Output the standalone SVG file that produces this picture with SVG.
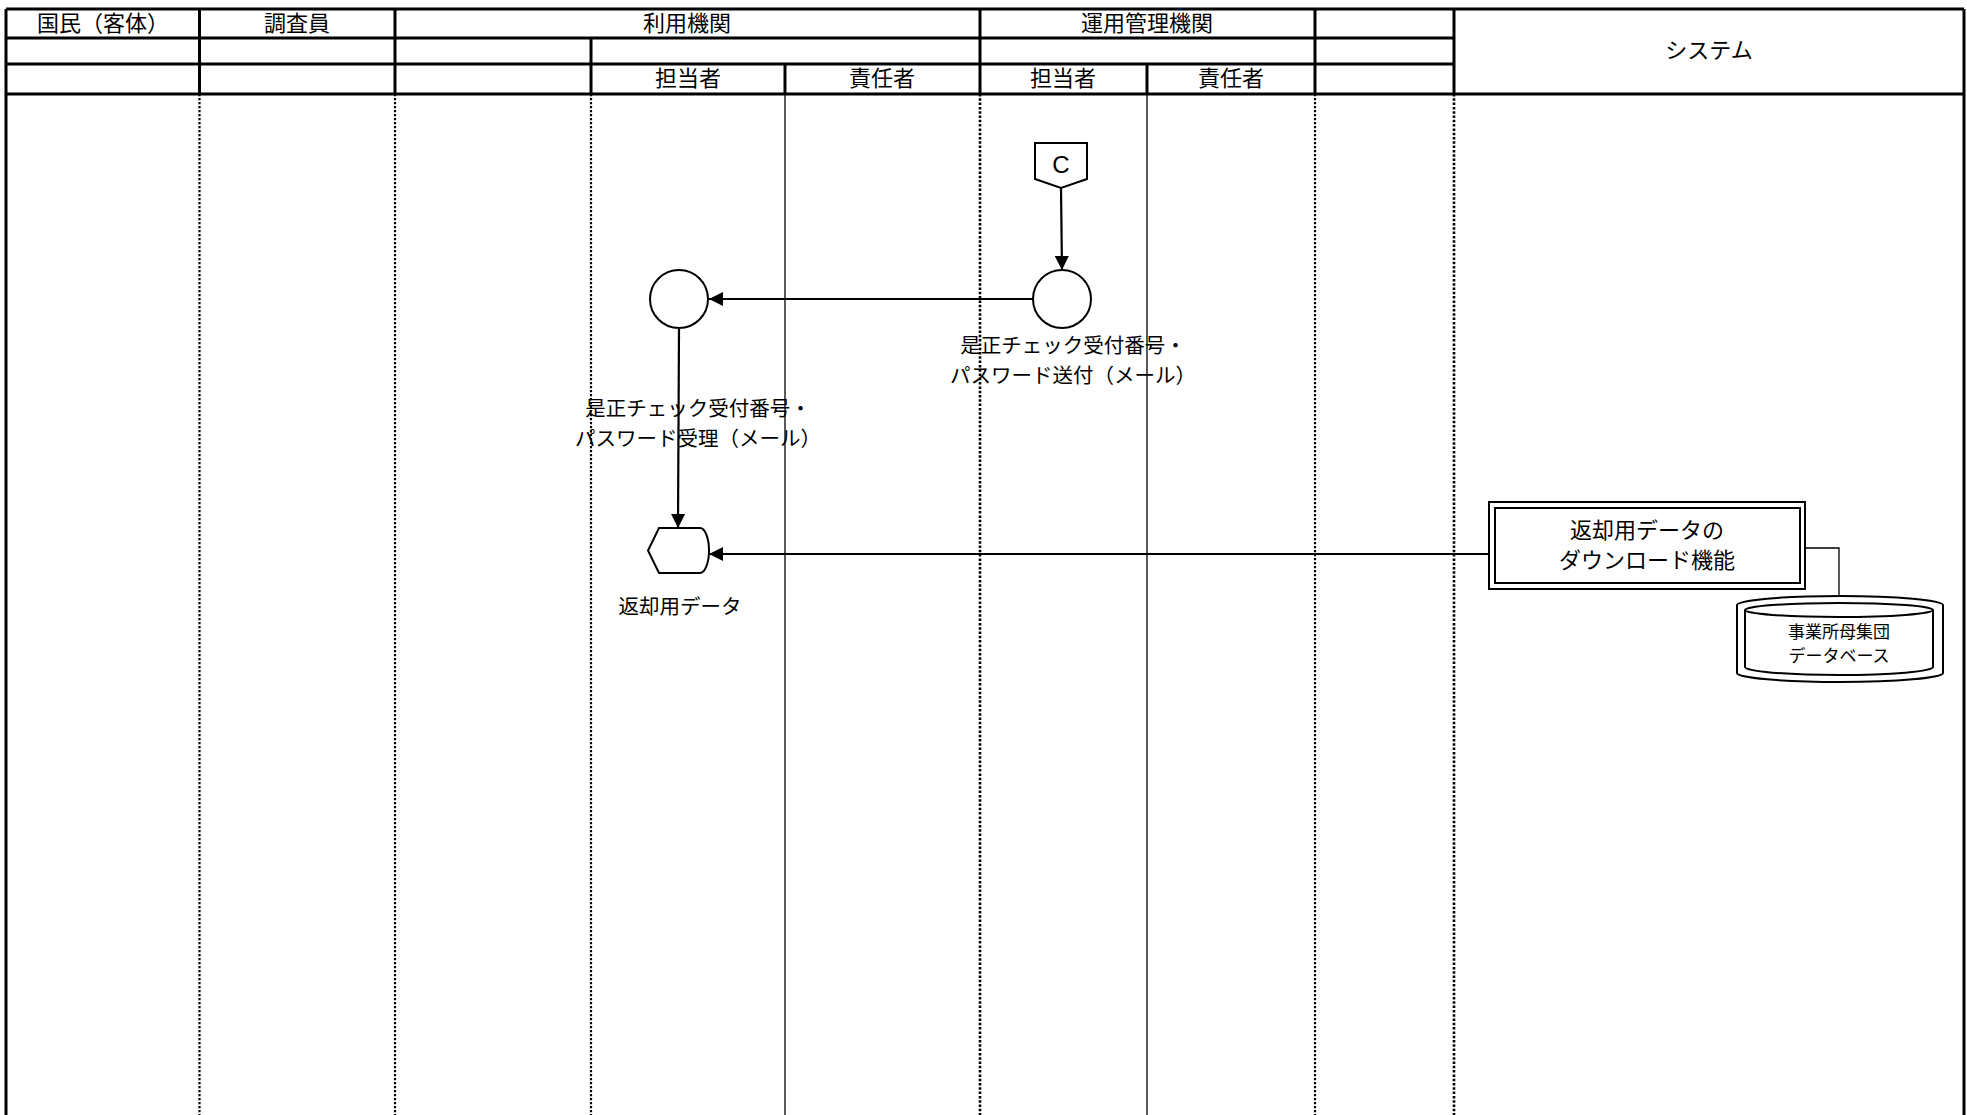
<svg xmlns="http://www.w3.org/2000/svg" width="1967" height="1115" viewBox="0 0 1967 1115">
<style>
text{font-family:"Liberation Sans","Noto Sans CJK JP",sans-serif;fill:#000;}
.h{font-size:22px;text-anchor:middle;}
.lbl{font-size:20.5px;text-anchor:middle;}
.db{font-size:17px;text-anchor:middle;}
.hl{stroke:#000;stroke-width:3;fill:none;}
.dot{stroke:#000;stroke-width:2.2;stroke-dasharray:2.2,1.8;fill:none;}
.dotb{stroke:#000;stroke-width:2.6;stroke-dasharray:2.5,1.8;fill:none;}
.thin{stroke:#000;stroke-width:1.3;fill:none;}
.shape{stroke:#000;stroke-width:2;fill:#fff;}
.conn{stroke:#000;stroke-width:2.2;fill:none;}
</style>
<defs>
<marker id="arr" markerUnits="userSpaceOnUse" markerWidth="16" markerHeight="14" refX="14" refY="7" orient="auto">
<path d="M0,0 L14,7 L0,14 Z" fill="#000"/>
</marker>
</defs>
<rect width="1967" height="1115" fill="#fff"/>
<g id="lanes">
<line class="dot" x1="199.5" y1="94" x2="199.5" y2="1115"/>
<line class="dot" x1="395" y1="94" x2="395" y2="1115"/>
<line class="dot" x1="591" y1="94" x2="591" y2="1115"/>
<line class="thin" x1="785" y1="94" x2="785" y2="1115"/>
<line class="dotb" x1="980" y1="94" x2="980" y2="1115"/>
<line class="thin" x1="1147" y1="94" x2="1147" y2="1115"/>
<line class="dot" x1="1315" y1="94" x2="1315" y2="1115"/>
<line class="dotb" x1="1454" y1="94" x2="1454" y2="1115"/>
<line class="hl" x1="6" y1="9" x2="6" y2="1115"/>
<line class="hl" x1="1964" y1="9" x2="1964" y2="1115"/>
</g>
<g id="header">
<line class="hl" x1="6" y1="9" x2="1964" y2="9"/>
<line class="hl" x1="6" y1="38" x2="1454" y2="38"/>
<line class="hl" x1="6" y1="64" x2="1454" y2="64"/>
<line class="hl" x1="6" y1="94" x2="1964" y2="94"/>
<line class="hl" x1="199.5" y1="9" x2="199.5" y2="94"/>
<line class="hl" x1="395" y1="9" x2="395" y2="94"/>
<line class="hl" x1="591" y1="38" x2="591" y2="94"/>
<line class="hl" x1="785" y1="64" x2="785" y2="94"/>
<line class="hl" x1="980" y1="9" x2="980" y2="94"/>
<line class="hl" x1="1147" y1="64" x2="1147" y2="94"/>
<line class="hl" x1="1315" y1="9" x2="1315" y2="94"/>
<line class="hl" x1="1454" y1="9" x2="1454" y2="94"/>
<text class="h" x="103" y="31">国民（客体）</text>
<text class="h" x="297" y="31">調査員</text>
<text class="h" x="687" y="31">利用機関</text>
<text class="h" x="1147" y="31">運用管理機関</text>
<text class="h" x="688" y="86">担当者</text>
<text class="h" x="882" y="86">責任者</text>
<text class="h" x="1063" y="86">担当者</text>
<text class="h" x="1231" y="86">責任者</text>
<text class="h" x="1709" y="58">システム</text>
</g>
<g id="connectors">
<line class="conn" x1="1061" y1="188" x2="1062" y2="270" marker-end="url(#arr)"/>
<line class="conn" x1="1033" y1="299" x2="709" y2="299" marker-end="url(#arr)"/>
<line class="conn" x1="679" y1="328" x2="678" y2="528" marker-end="url(#arr)"/>
<line class="conn" x1="1489" y1="554" x2="709" y2="554" marker-end="url(#arr)"/>
<polyline class="thin" points="1805,548 1839,548 1839,600"/>
</g>
<g id="node-c">
<path class="shape" d="M1035,143 L1087,143 L1087,179 L1061,188 L1035,179 Z"/>
<text x="1061" y="173" style="font-size:24px;text-anchor:middle">C</text>
</g>
<g id="node-send">
<circle class="shape" cx="1062" cy="299" r="29"/>
<text class="lbl" x="1073" y="353">是正チェック受付番号・</text>
<text class="lbl" x="1073" y="383">パスワード送付（メール）</text>
</g>
<g id="node-receive">
<circle class="shape" cx="679" cy="299" r="29"/>
<text class="lbl" x="698" y="416">是正チェック受付番号・</text>
<text class="lbl" x="698" y="446">パスワード受理（メール）</text>
</g>
<g id="node-data">
<path class="shape" d="M659,528 L700,528 A9,22.5 0 0 1 700,573 L659,573 L648,550.5 Z"/>
<text class="lbl" x="680" y="614">返却用データ</text>
</g>
<g id="node-download">
<rect class="shape" x="1489" y="502" width="316" height="87"/>
<rect class="shape" x="1495" y="508" width="305" height="75"/>
<text class="h" x="1647" y="538">返却用データの</text>
<text class="h" x="1647" y="568">ダウンロード機能</text>
</g>
<g id="node-db">
<path class="shape" d="M1737,605 A103,9 0 0 1 1943,605 L1943,673 A103,9 0 0 1 1737,673 Z"/>
<path class="shape" d="M1745,610 A94,7 0 0 1 1933,610 L1933,667 A94,8 0 0 1 1745,667 Z"/>
<path class="thin" d="M1745,610 A94,7 0 0 0 1933,610" style="stroke-width:2"/>
<text class="db" x="1839" y="638">事業所母集団</text>
<text class="db" x="1839" y="662">データベース</text>
</g>
</svg>
